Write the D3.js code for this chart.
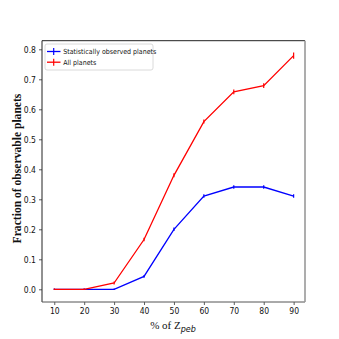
<!DOCTYPE html>
<html><head><meta charset="utf-8">
<script src="https://cdn.jsdelivr.net/npm/d3@7"></script>
<style>body{margin:0;background:#fff}svg{display:block}</style>
</head><body>
<svg id="c" width="339" height="339"></svg>
<script>
const zpeb = [10, 20, 30, 40, 50, 60, 70, 80, 90];
const statObserved = [0, 0, 0, 0.043, 0.2, 0.311, 0.341, 0.341, 0.311];
const statErr = [0, 0, 0, 0.002, 0.003, 0.003, 0.003, 0.003, 0.003];
const allPlanets = [0, 0, 0.021, 0.166, 0.38, 0.559, 0.658, 0.679, 0.779];
const allErr = [0, 0, 0.002, 0.003, 0.004, 0.004, 0.005, 0.005, 0.008];
const xTicks = [10, 20, 30, 40, 50, 60, 70, 80, 90];
const yTicks = [0, 0.1, 0.2, 0.3, 0.4, 0.5, 0.6, 0.7, 0.8];
const seriesNames = ["Statistically observed planets", "All planets"];
const seriesColors = ["#0000ff", "#ff0000"];

const L = 42, R = 305, T = 40.7, B = 302;
const svg = d3.select("#c");
const x = d3.scaleLinear().domain([5.9, 93.8]).range([L, R]);
const y = d3.scaleLinear().domain([-0.0423, 0.8287]).range([B, T]);
const tickFont = "'Liberation Sans Narrow','DejaVu Sans Condensed',sans-serif";

// axes
const gx = svg.append("g").attr("transform", `translate(0,${B})`)
  .call(d3.axisBottom(x).tickValues(xTicks).tickFormat(d3.format("d")).tickSize(3).tickPadding(3));
const gy = svg.append("g").attr("transform", `translate(${L},0)`)
  .call(d3.axisLeft(y).tickValues(yTicks).tickFormat(d3.format(".1f")).tickSize(3).tickPadding(3));
[gx, gy].forEach(g => {
  g.select(".domain").remove();
  g.selectAll("line").attr("stroke", "#333").attr("stroke-width", 0.8);
  g.selectAll("text").attr("font-family", tickFont).attr("font-size", "8.5px").attr("fill", "#111");
});

// series
const sets = [
  {vals: statObserved, err: statErr, color: seriesColors[0]},
  {vals: allPlanets, err: allErr, color: seriesColors[1]}
];
const line = d3.line().x((d, i) => x(zpeb[i])).y(d => y(d));
sets.forEach(s => {
  svg.append("path").datum(s.vals).attr("d", line)
    .attr("fill", "none").attr("stroke", s.color).attr("stroke-width", 1.3);
  svg.append("g").selectAll("line").data(s.vals).join("line")
    .attr("x1", (d, i) => x(zpeb[i])).attr("x2", (d, i) => x(zpeb[i]))
    .attr("y1", (d, i) => y(d - s.err[i]) + 0.8).attr("y2", (d, i) => y(d + s.err[i]) - 0.8)
    .attr("stroke", s.color).attr("stroke-width", 1.2);
});

// spines
svg.append("line").attr("x1", L).attr("x2", L).attr("y1", T).attr("y2", B).attr("stroke", "#222").attr("stroke-width", 1);
svg.append("line").attr("x1", L).attr("x2", R).attr("y1", T).attr("y2", T).attr("stroke", "#222").attr("stroke-width", 1);
svg.append("line").attr("x1", L).attr("x2", R).attr("y1", B).attr("y2", B).attr("stroke", "#555").attr("stroke-width", 1);
svg.append("line").attr("x1", R).attr("x2", R).attr("y1", T).attr("y2", B).attr("stroke", "#999").attr("stroke-width", 1.6);

// legend
const lg = svg.append("g");
lg.append("rect").attr("x", 45).attr("y", 44).attr("width", 108).attr("height", 26).attr("rx", 2)
  .attr("fill", "#fff").attr("stroke", "#d0d0d0").attr("stroke-width", 0.8);
seriesNames.forEach((n, i) => {
  const yy = 51.5 + i * 10.7;
  lg.append("line").attr("x1", 47).attr("x2", 60.5).attr("y1", yy).attr("y2", yy).attr("stroke", seriesColors[i]).attr("stroke-width", 1.3);
  lg.append("line").attr("x1", 53.7).attr("x2", 53.7).attr("y1", yy - 3.5).attr("y2", yy + 3.5).attr("stroke", seriesColors[i]).attr("stroke-width", 1.2);
  lg.append("text").attr("x", 63.3).attr("y", yy + 2.4).text(n)
    .attr("font-family", tickFont).attr("font-size", "7px").attr("fill", "#111");
});

// axis labels
svg.append("text").attr("transform", `translate(20.5,168.5) rotate(-90)`).attr("text-anchor", "middle")
  .attr("font-family", "'Liberation Serif','DejaVu Serif',serif").attr("font-size", "11.6px").attr("font-weight", "bold")
  .attr("fill", "#111").text("Fraction of observable planets");
const xl = svg.append("text").attr("x", 173).attr("y", 329).attr("text-anchor", "middle")
  .attr("font-family", "'Liberation Serif','DejaVu Serif',serif").attr("font-size", "11px").attr("fill", "#111");
xl.append("tspan").text("% of Z");
xl.append("tspan").attr("dy", 2.5).attr("font-family", "'DejaVu Sans',sans-serif").attr("font-style", "italic").attr("font-size", "8px").text("peb");
</script>
</body></html>
